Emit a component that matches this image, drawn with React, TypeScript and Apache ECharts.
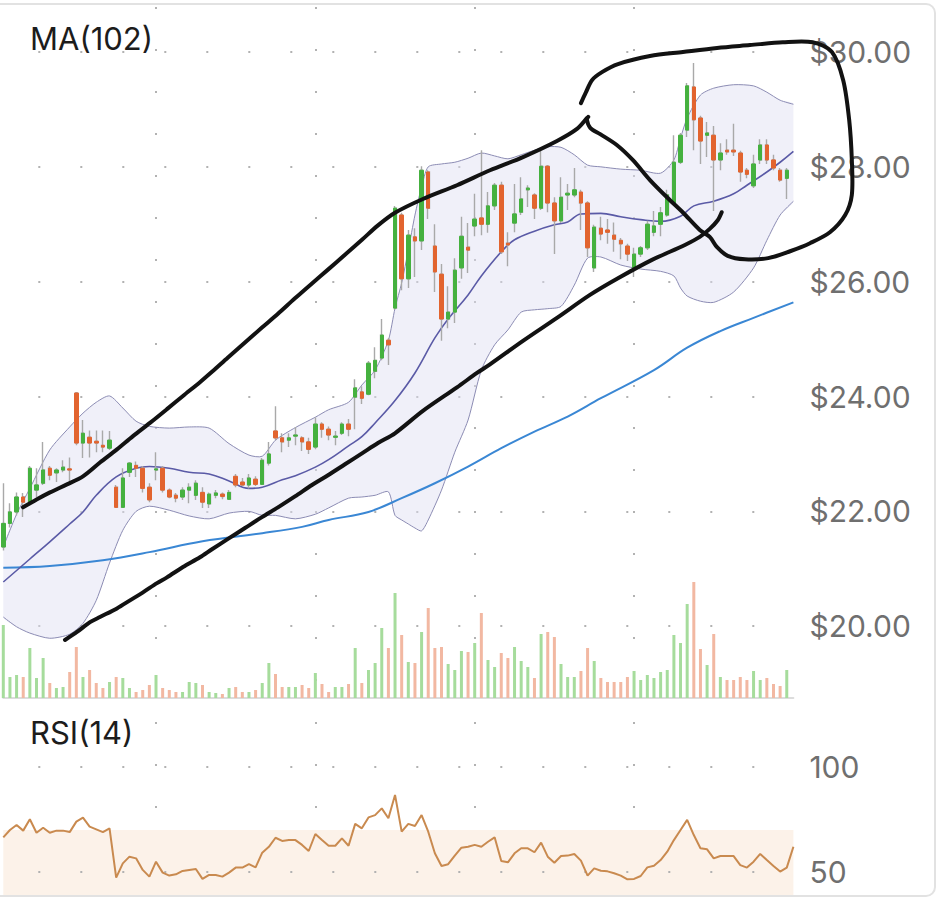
import React, { useEffect, useRef } from "react";
import * as echarts from "echarts";

// ---------- DATA ----------
const dayCount = 120;
const categories = Array.from({ length: dayCount }, (_, i) => `Day ${i + 1}`);

const priceTicks = [20, 22, 24, 26, 28, 30];
const rsiTicks = [100, 50];
const rsiZone = [70, 39];
const gridColumns = [23, 47, 71, 95];

const candleOpen = [21.38,21.79,21.99,22.25,22.16,22.37,22.49,22.75,22.67,22.72, 22.74,24.06,23.19,23.29,23.22,23.15,23.10,22.42,22.07,22.68, 22.80,22.75,22.42,22.72,22.75,22.37,22.28,22.25,22.37,22.28, 22.33,22.13,22.28,22.30,22.21,22.61,22.51,22.46,22.56,22.47, 22.84,23.40,23.28,23.24,23.31,23.28,23.21,23.12,23.52,23.43, 23.29,23.36,23.52,23.99,24.08,24.04,24.44,24.67,24.98,25.54, 27.16,26.05,26.78,26.71,27.91,26.62,26.13,25.35,25.47,26.24, 26.60,26.97,27.11,27.00,27.32,27.68,26.67,27.02,27.21,27.60, 27.51,27.28,28.01,27.37,27.06,27.51,27.51,27.56,27.37,26.24, 26.93,26.90,26.81,26.72,26.62,26.22,26.48,26.59,26.86,27.00, 27.16,27.37,28.08,28.64,29.39,28.85,28.55,28.55,28.12,28.29, 28.29,28.24,27.94,27.67,28.12,28.38,28.12,27.94,27.80];
const candleClose = [21.79,21.99,22.25,22.16,22.75,22.46,22.72,22.63,22.72,22.77, 22.72,23.19,23.36,23.19,23.19,23.12,23.24,22.07,22.58,22.84, 22.75,22.40,22.20,22.74,22.37,22.25,22.23,22.37,22.42,22.49, 22.16,22.30,22.32,22.26,22.33,22.46,22.46,22.58,22.47,22.89, 23.00,23.28,23.21,23.28,23.33,23.21,23.08,23.52,23.43,23.33, 23.31,23.52,23.43,24.15,23.97,24.58,24.63,25.07,24.90,27.28, 26.05,26.81,26.71,27.94,27.28,26.17,25.35,25.47,26.20,26.79, 26.55,27.09,27.00,27.32,27.68,26.52,26.64,27.18,27.44,27.63, 27.28,28.01,27.37,27.06,27.47,27.54,27.60,27.37,26.59,26.95, 26.83,26.86,26.74,26.66,26.48,26.48,26.59,27.00,26.97,27.20, 27.51,28.08,28.55,29.41,28.82,28.45,28.59,28.12,28.24,28.26, 28.26,27.91,27.87,28.05,28.38,28.12,27.98,27.77,27.94];
const candleLow = [21.32,21.72,21.93,21.90,22.14,22.25,22.46,22.54,22.51,22.68, 22.51,23.15,22.93,22.94,23.03,23.03,23.07,22.07,22.06,22.60, 22.60,22.33,22.16,22.54,22.33,22.23,22.16,22.20,22.14,22.20, 22.06,22.06,22.23,22.21,22.20,22.42,22.44,22.40,22.44,22.46, 22.80,23.24,23.03,23.12,23.15,23.05,23.00,23.08,23.28,23.24, 23.15,23.33,23.31,23.43,23.87,24.02,24.32,24.63,24.55,25.51, 25.85,25.89,26.08,26.55,27.09,25.82,24.97,25.19,25.28,26.05, 26.15,26.79,26.81,26.85,27.25,26.48,26.27,26.86,27.16,27.30, 27.09,27.25,27.21,26.48,27.02,27.25,27.47,26.90,26.43,26.17, 26.72,26.66,26.52,26.39,26.36,26.08,26.43,26.55,26.79,26.79, 27.13,27.33,28.05,28.52,28.29,28.05,28.17,27.23,27.94,28.21, 28.19,27.74,27.80,27.63,28.05,28.05,27.94,27.74,27.44];
const candleHigh = [22.49,22.14,22.33,22.32,22.79,22.75,23.21,22.79,22.75,22.89, 22.94,24.08,23.59,23.41,23.41,23.41,23.40,22.46,22.75,22.86, 22.87,22.79,22.49,23.03,22.79,22.40,22.32,22.42,22.49,22.54, 22.42,22.33,22.37,22.33,22.37,22.65,22.58,22.65,22.61,22.93, 23.21,23.83,23.36,23.36,23.47,23.31,23.28,23.64,23.55,23.48, 23.40,23.55,23.61,24.30,24.18,24.62,24.86,25.35,25.02,27.32, 27.20,26.90,26.93,28.01,27.94,27.00,26.31,25.92,26.41,27.13, 27.02,27.53,28.29,27.56,27.72,27.74,26.86,27.70,27.82,27.68, 27.54,28.33,28.03,27.47,27.82,27.70,27.98,27.60,27.40,26.99, 27.13,27.09,27.03,26.76,26.66,26.59,26.62,27.06,27.23,27.30, 27.60,28.55,28.59,29.46,29.81,28.89,28.78,28.71,28.41,28.48, 28.75,28.28,27.98,28.21,28.48,28.48,28.21,27.98,27.98];

// volume, millions
const volume = [7.3,2.1,2.3,2.1,5.0,2.0,4.0,1.5,1.0,1.1, 2.6,5.1,2.1,2.8,1.5,1.0,1.6,2.1,2.0,1.0, 0.6,0.8,1.3,2.3,1.0,0.8,0.6,0.6,1.6,1.5, 1.3,0.6,0.5,0.4,1.0,1.1,0.6,0.6,0.8,1.5, 3.5,2.4,1.1,1.1,1.1,1.3,1.0,2.5,1.4,0.6, 1.1,1.1,1.4,5.0,1.5,2.8,3.5,7.0,5.0,10.5, 6.3,3.6,3.5,6.6,9.0,5.0,5.1,3.4,2.8,4.7, 4.6,5.5,8.5,3.8,3.1,4.5,4.0,5.1,3.7,3.1, 2.0,6.4,6.6,6.1,3.4,2.1,2.1,2.7,5.0,3.7, 2.0,1.6,1.6,1.6,2.1,2.7,1.8,2.3,2.0,2.6, 2.8,6.3,5.5,9.4,11.6,4.9,3.3,6.4,2.1,1.8, 1.8,2.1,1.8,2.7,1.8,2.0,1.4,1.2,2.8];

const rsi = [66.5,70.0,72.4,69.7,75.1,68.7,71.1,68.7,69.7,69.7, 69.0,74.0,75.9,71.6,70.3,69.0,70.8,47.3,54.1,57.3, 56.5,51.0,47.8,54.9,49.7,48.3,48.9,50.5,51.0,51.4, 46.7,48.6,48.6,47.8,49.7,52.1,52.1,53.8,52.2,59.2, 62.0,66.3,64.8,65.2,65.2,62.9,60.0,68.1,65.2,62.5, 62.5,66.0,62.5,72.9,70.8,76.0,77.1,80.3,75.6,86.7, 69.2,72.9,71.9,77.1,69.2,58.9,52.9,53.7,57.8,61.6, 62.0,62.9,62.0,64.4,66.5,55.2,54.6,58.9,61.3,61.3, 59.4,64.0,57.3,54.4,57.6,57.8,58.6,55.4,48.3,51.7, 50.6,50.3,49.4,48.3,46.5,46.7,48.1,52.2,53.0,55.7, 59.7,65.2,70.0,74.8,67.6,61.3,60.8,56.5,57.6,57.6, 57.6,53.3,52.1,54.9,58.6,55.7,52.9,50.2,52.1,62.0];

// Bollinger bands (read at these day indices)
const bandDays = [0,2,4,7,10,12,14,16,18,20, 22,25,28,31,34,37,39,41,44,47, 49,52,54,56,58,59,60,61,62,63, 64,66,68,70,72,74,76,78,80,82, 84,86,88,90,93,96,99,101,102,103, 105,107,110,113,115,117,119];
const bandUpper = [21.38,21.95,22.40,23.07,23.47,23.71,23.90,24.01,23.80,23.57, 23.48,23.45,23.47,23.45,23.18,22.98,22.96,23.24,23.46,23.64, 23.77,23.90,24.20,24.46,24.98,25.54,25.98,26.55,27.16,27.65, 28.00,28.05,28.08,28.15,28.24,28.19,28.14,28.21,28.29,28.35, 28.34,28.21,28.03,28.00,27.96,27.94,27.89,28.12,28.50,28.85, 29.25,29.37,29.43,29.41,29.30,29.16,29.09];
const bandLower = [20.16,19.99,19.88,19.79,19.86,20.05,20.45,21.10,21.67,22.00, 22.09,22.02,21.92,21.87,21.97,22.00,21.93,21.93,21.87,21.95, 22.06,22.23,22.25,22.28,22.34,21.93,21.85,21.78,21.71,21.66, 21.85,22.37,23.03,23.59,24.46,24.90,25.16,25.47,25.51,25.53, 25.57,25.94,26.41,26.43,26.29,26.22,26.18,26.10,25.89,25.75, 25.66,25.64,25.82,26.24,26.72,27.16,27.40];

const midDays = [0,4,7,10,12,14,17,20,22,25, 28,31,34,37,39,42,44,47,49,52, 54,56,59,62,65,67,70,72,75,77, 80,83,85,87,90,93,96,99,102,104, 107,110,112,115,117,119];
const bandMiddle = [20.77,21.17,21.47,21.78,21.99,22.28,22.60,22.75,22.78,22.75, 22.68,22.65,22.53,22.40,22.42,22.55,22.62,22.77,22.90,23.14, 23.30,23.54,23.93,24.41,25.02,25.35,25.77,26.10,26.52,26.73, 26.88,26.99,27.04,27.18,27.19,27.13,27.08,27.05,27.14,27.32, 27.40,27.53,27.68,27.91,28.08,28.27];

const maDays = [0,7,15,22,30,39,45,49,55,60,65,70,75,80,85,90,98,103,108,113,119];
const ma102 = [21.02,21.05,21.15,21.29,21.48,21.62,21.73,21.85,21.99,22.23,22.49,22.78,23.10,23.39,23.65,23.97,24.46,24.85,25.14,25.37,25.64];

// hand-drawn annotations, as [day index, price]
const upperStroke = [[2.97,22.07],[5.08,22.21],[7.03,22.33],[9.59,22.47],[12.0,22.61],[14.56,22.85],[17.12,23.08],[19.53,23.31],[22.09,23.54],[24.65,23.78],[27.06,24.01],[29.62,24.25],[31.43,24.43],[33.84,24.68],[36.4,24.94],[38.96,25.20],[41.37,25.44],[43.93,25.71],[46.49,25.97],[48.9,26.21],[51.46,26.47],[54.02,26.73],[56.43,26.98],[58.99,27.20],[63.2,27.44],[68.33,27.68],[73.3,27.94],[78.27,28.17],[83.39,28.45],[86.4,28.66],[87.9,28.85]];
const lowerStroke = [[9.29,19.76],[11.1,19.90],[13.06,20.07],[14.56,20.16],[17.12,20.31],[19.08,20.45],[21.04,20.59],[23.15,20.75],[24.65,20.85],[27.06,21.03],[29.62,21.20],[31.43,21.34],[33.84,21.52],[36.4,21.71],[38.96,21.90],[41.37,22.07],[43.93,22.26],[46.49,22.46],[48.9,22.63],[51.46,22.82],[54.02,23.01],[56.43,23.19],[58.99,23.36],[63.2,23.75],[68.33,24.16],[71.34,24.41],[73.3,24.56],[78.27,24.97],[83.39,25.37],[88.36,25.77],[92.58,26.06],[97.7,26.38],[102.66,26.64],[104.9,26.78],[106.4,26.92],[107.6,27.07],[108.2,27.21]];
const loopStroke = [[87.0,29.11],[87.76,29.30],[88.66,29.51],[90.17,29.65],[92.58,29.79],[97.4,29.93],[102.36,30.00],[107.5,30.07],[112.45,30.12],[117.4,30.17],[121.9,30.17],[124.8,30.00],[126.5,29.51],[127.4,28.82],[127.8,28.12],[127.8,27.51],[126.8,27.16],[124.5,26.86],[121.5,26.67],[118.5,26.53],[115.2,26.41],[111.7,26.39],[109.1,26.45],[107.5,26.60],[106.4,26.78],[104.9,26.90],[102.4,27.20],[99.96,27.47],[97.4,27.77],[94.8,28.12],[92.4,28.38],[89.9,28.57],[88.4,28.68],[87.9,28.82],[88.1,28.87]];

// ---------- STYLE ----------
const FONT = "Inter, 'Noto Sans', 'DejaVu Sans', sans-serif";
const UP = "#45b13f";
const DOWN = "#e2642f";
const WICK = "#a9a9a9";
const VOL_UP = "#a6dc9c";
const VOL_DOWN = "#f2b8a2";
const DOT = "#b2b2b2";
const LABEL = "#6f6f6f";
const BAND_FILL = "rgba(222,222,242,0.45)";
const BAND_LINE = "#8c8cb4";

const LEFT = 3.3;
const RIGHT = 148.6;

export default function App() {
  const ref = useRef<HTMLDivElement>(null);

  useEffect(() => {
    if (!ref.current) return;
    const chart = echarts.init(ref.current, undefined, { renderer: "svg" });

    const wickData = candleOpen.map((o, i) => [o, candleClose[i], candleLow[i], candleHigh[i]]);
    const bodyData = candleOpen.map((o, i) => [
      o,
      candleClose[i],
      Math.min(o, candleClose[i]),
      Math.max(o, candleClose[i]),
    ]);
    const volData = volume.map((v, i) => ({
      value: v,
      itemStyle: { color: candleClose[i] >= candleOpen[i] ? VOL_UP : VOL_DOWN },
    }));
    const midPairs = midDays.map((d, i) => [d, bandMiddle[i]]);
    const maPairs = maDays.map((d, i) => [d, ma102[i]]);

    const dotLineH = { color: DOT, width: 2, type: [2, 40], dashOffset: 7.3 };
    const colSplit = (offset: number) => ({
      show: true,
      interval: (idx: number) => gridColumns.includes(idx),
      lineStyle: { color: DOT, width: 2, type: [2, 40], dashOffset: offset },
    });

    const bandRender = (_params: any, api: any) => {
      const up = bandDays.map((d, i) => api.coord([d, bandUpper[i]]));
      const lo = bandDays.map((d, i) => api.coord([d, bandLower[i]]));
      const x0 = api.coord([0, 25])[0];
      const x1 = api.coord([dayCount - 1, 25])[0];
      const constraint = [[x0, -10000], [x1, 10000]];
      return {
        type: "group",
        children: [
          {
            type: "polygon",
            shape: { points: up.concat(lo.slice().reverse()), smooth: 0.25, smoothConstraint: constraint },
            style: { fill: BAND_FILL, stroke: null },
          },
          {
            type: "polyline",
            shape: { points: up, smooth: 0.25, smoothConstraint: constraint },
            style: { stroke: BAND_LINE, lineWidth: 1, fill: null },
          },
          {
            type: "polyline",
            shape: { points: lo, smooth: 0.25, smoothConstraint: constraint },
            style: { stroke: BAND_LINE, lineWidth: 1, fill: null },
          },
        ],
      };
    };

    const strokeRender = (_params: any, api: any) => ({
      type: "group",
      children: [upperStroke, lowerStroke, loopStroke].map((s) => ({
        type: "polyline",
        shape: { points: s.map((p) => api.coord(p)), smooth: 0.3 },
        style: { stroke: "#121212", lineWidth: 4, fill: null, lineCap: "round", lineJoin: "round" },
      })),
    });

    const option: any = {
      animation: false,
      backgroundColor: "#ffffff",
      textStyle: { fontFamily: FONT },
      graphic: [
        {
          type: "text",
          x: 30,
          y: 38,
          z: 30,
          style: { text: "MA(102)", fontSize: 31, fill: "#1c1c1c", fontFamily: FONT, verticalAlign: "middle" },
        },
        {
          type: "text",
          x: 30,
          y: 732,
          z: 30,
          style: { text: "RSI(14)", fontSize: 31, fill: "#1c1c1c", fontFamily: FONT, verticalAlign: "middle" },
        },
      ],
      grid: [
        { left: LEFT, right: RIGHT, top: 52, height: 574.2 },
        { left: LEFT, right: RIGHT, top: 5, height: 693 },
        { left: LEFT, right: RIGHT, top: 704, height: 191.1 },
      ],
      xAxis: [
        { type: "category", gridIndex: 0, data: categories, boundaryGap: false, show: false },
        { type: "value", gridIndex: 0, min: 0, max: dayCount - 1, show: false },
        {
          type: "category",
          gridIndex: 1,
          data: categories,
          boundaryGap: false,
          axisLine: { show: true, lineStyle: { color: "#dcdcdc", width: 2 } },
          axisTick: { show: false },
          axisLabel: { show: false },
          splitLine: colSplit(40),
        },
        {
          type: "category",
          gridIndex: 2,
          data: categories,
          boundaryGap: false,
          axisLine: { show: false },
          axisTick: { show: false },
          axisLabel: { show: false },
          splitLine: colSplit(24),
        },
      ],
      yAxis: [
        {
          type: "value",
          gridIndex: 0,
          position: "right",
          min: priceTicks[0],
          max: priceTicks[priceTicks.length - 1],
          interval: 2,
          axisLine: { show: false },
          axisTick: { show: false },
          axisLabel: {
            formatter: (v: number) => "$" + v.toFixed(2),
            margin: 16,
            color: LABEL,
            fontSize: 30,
            fontFamily: FONT,
          },
          splitLine: { show: true, lineStyle: dotLineH },
        },
        { type: "value", gridIndex: 1, min: 0, max: 69.3, show: false },
        { type: "value", gridIndex: 2, min: 39, max: 130, show: false },
      ],
      series: [
        {
          name: "volume",
          type: "bar",
          xAxisIndex: 2,
          yAxisIndex: 1,
          data: volData,
          barWidth: 3,
          silent: true,
          z: 1,
        },
        {
          name: "bollinger",
          type: "custom",
          coordinateSystem: "cartesian2d",
          xAxisIndex: 1,
          yAxisIndex: 0,
          data: [[0, 25]],
          renderItem: bandRender,
          clip: false,
          silent: true,
          z: 2,
        },
        {
          name: "ma102",
          type: "line",
          xAxisIndex: 1,
          yAxisIndex: 0,
          data: maPairs,
          smooth: 0.4,
          symbol: "none",
          silent: true,
          z: 3,
          lineStyle: { color: "#3a87d4", width: 2 },
        },
        {
          name: "bb-mid",
          type: "line",
          xAxisIndex: 1,
          yAxisIndex: 0,
          data: midPairs,
          smooth: 0.4,
          symbol: "none",
          silent: true,
          z: 3,
          lineStyle: { color: "#5a5aa6", width: 1.6 },
        },
        {
          name: "wicks",
          type: "candlestick",
          xAxisIndex: 0,
          yAxisIndex: 0,
          data: wickData,
          barWidth: 2.5,
          silent: true,
          z: 4,
          itemStyle: { color: WICK, color0: WICK, borderColor: WICK, borderColor0: WICK, borderWidth: 1.4 },
        },
        {
          name: "bodies",
          type: "candlestick",
          xAxisIndex: 0,
          yAxisIndex: 0,
          data: bodyData,
          barWidth: 4,
          silent: true,
          z: 5,
          itemStyle: { color: UP, color0: DOWN, borderColor: UP, borderColor0: DOWN, borderWidth: 1 },
        },
        {
          name: "rsi",
          type: "line",
          xAxisIndex: 3,
          yAxisIndex: 2,
          data: rsi,
          symbol: "none",
          silent: true,
          z: 5,
          lineStyle: { color: "#c98a4f", width: 2 },
          markArea: {
            silent: true,
            itemStyle: { color: "#fcf2e9" },
            data: [[{ yAxis: rsiZone[0] }, { yAxis: rsiZone[1] }]],
          },
          markLine: {
            silent: true,
            symbol: ["none", "none"],
            lineStyle: { color: DOT, width: 2, type: [2, 40], dashOffset: 7.3 },
            label: {
              show: true,
              position: "end",
              distance: 16,
              formatter: (p: any) => String(p.value),
              color: LABEL,
              fontSize: 30,
              fontFamily: FONT,
            },
            emphasis: { disabled: true },
            data: rsiTicks.map((t) => ({ yAxis: t })),
          },
        },
        {
          name: "annotations",
          type: "custom",
          coordinateSystem: "cartesian2d",
          xAxisIndex: 1,
          yAxisIndex: 0,
          data: [[0, 25]],
          renderItem: strokeRender,
          clip: false,
          silent: true,
          z: 20,
        },
      ],
    };

    chart.setOption(option);
    return () => chart.dispose();
  }, []);

  return (
    <div style={{ position: "fixed", left: 0, top: 0, width: 942, height: 902, background: "#fff", overflow: "hidden" }}>
      <div ref={ref} style={{ position: "absolute", left: 0, top: 0, width: 942, height: 902 }} />
      <div
        style={{
          position: "absolute",
          left: -20,
          top: 3,
          width: 956,
          height: 894,
          border: "2px solid #e2e2e2",
          borderRadius: 10,
          boxSizing: "border-box",
          pointerEvents: "none",
        }}
      />
    </div>
  );
}
